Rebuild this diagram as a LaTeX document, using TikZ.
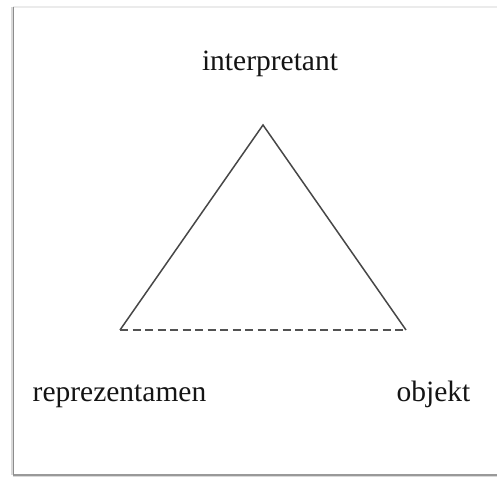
\documentclass[tikz,border=0pt]{standalone}
\usepackage{fontspec}
\setmainfont{Liberation Serif}
\begin{document}
\begin{tikzpicture}[x=1bp,y=1bp,
  lbl/.style={anchor=base,inner sep=0pt,text=black!92,font=\fontsize{29.5bp}{34bp}\selectfont},
  side/.style={draw=black!72,line width=1.5bp},
  base/.style={draw=black!68,line width=2bp,dash pattern=on 8bp off 4.5bp}]
\useasboundingbox (0,0) rectangle (497,477);
% frame
\draw[black!8,line width=2bp] (13,470) -- (497,470);
\draw[black!15,line width=3bp] (13,1.5) -- (497,1.5);
\draw[black!40,line width=1.2bp] (13,2) -- (497,2);
\draw[black!15,line width=3bp] (12.5,2) -- (12.5,470);
\draw[black!45,line width=1.2bp] (13.5,2) -- (13.5,470);
% triangle
\coordinate (top) at (263,352);
\coordinate (bl) at (120,147);
\coordinate (br) at (406,147);
\draw[side] (bl) -- (top) -- (br);
\draw[base] (bl) -- (br);
% labels
\node[lbl] (interp) at (270,406) {interpretant};
\node[lbl] (repr) at (119.5,75) {reprezentamen};
\node[lbl] (obj) at (433.5,75) {objekt};
\end{tikzpicture}
\end{document}
